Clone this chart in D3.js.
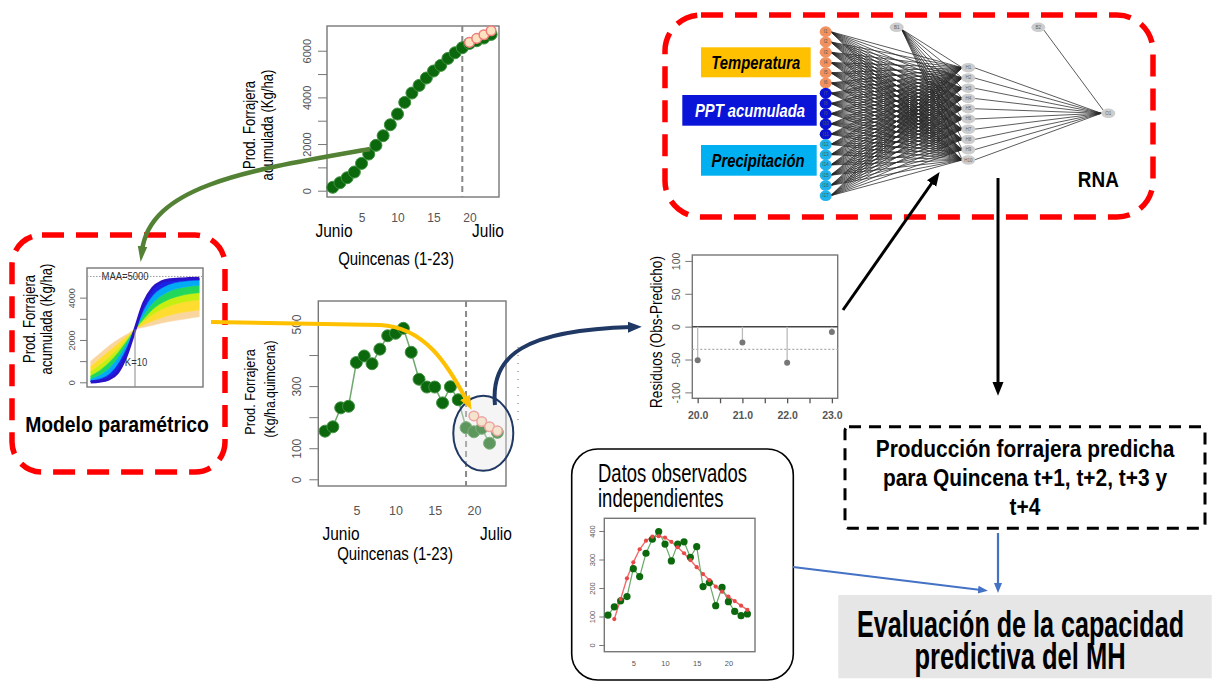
<!DOCTYPE html>
<html>
<head>
<meta charset="utf-8">
<script src="https://cdn.jsdelivr.net/npm/d3@7"></script>
<style>
  body { margin: 0; background: #fff; }
  svg { display: block; font-family: "Liberation Sans", Arial, sans-serif; }
</style>
</head>
<body>
<script>
// ---- data ----
const quincenas = [1,2,3,4,5,6,7,8,9,10,11,12,13,14,15,16,17,18,19,20,21,22,23];
const predQuincenas = [20,21,22,23];

// accumulated forage production (Kg/ha)
const cumObs = [146,343,557,800,1171,1571,1943,2357,2828,3286,3786,4186,4514,4829,5129,5371,5671,5914,6129,6314,6429,6543,6700];
const cumPred = [6357,6529,6686,6857];

// biweekly forage production (Kg/ha.quincena)
const biwObs = [155,169,230,235,376,397,372,419,462,470,486,409,322,297,297,246,298,256,166,153,164,116,151];
const biwPred = [204,186,169,156];

// residuals (Obs - Predicho)
const residuals = [-51,-24,-55,-8];
const residualMean = -34.5;

// independent observed data (inset)
const indepObs = [105,134,155,170,268,240,322,371,398,354,295,354,362,308,345,205,219,138,202,152,118,103,109];
const indepPredQ = [2,3,4,5,6,7,8,9,10,11,12,13,14,15,16,17,18,19,20,21,22,23];
const indepPred = [91,161,234,290,336,366,380,382,377,362,343,322,298,273,249,228,205,187,170,154,138,123];

// parametric model family, steepest -> flattest
const paramX = [0,2,4,6,8,10,12,14,16,18,20,22,24.5];
const paramCurves = [
  [20,50,150,450,1250,2500,3750,4450,4750,4850,4880,4900,4920],
  [60,150,350,800,1550,2500,3450,4100,4450,4650,4750,4800,4830],
  [150,320,620,1100,1750,2500,3200,3750,4100,4330,4450,4530,4580],
  [300,550,900,1350,1900,2500,3000,3450,3750,3950,4080,4170,4230],
  [500,800,1150,1550,2000,2500,2900,3200,3450,3620,3750,3830,3900],
  [750,1100,1450,1800,2150,2500,2720,2900,3050,3180,3280,3350,3420],
  [1000,1350,1700,2000,2250,2500,2600,2700,2800,2880,2950,3020,3100]
];
const bandColors = ['#1a22e6','#00aaf5','#22d85a','#c6ee10','#ffdc30','#f9d6a0'];
const paramMAA = 5000;
const paramK = 10;

// tick labels
const xTickLabels = [5,10,15,20];
const topYTicks = [0,1000,2000,3000,4000,5000,6000];
const topYLabels = [0,2000,4000,6000];
const midYTicks = [0,100,200,300,400,500];
const midYLabels = [0,100,300,500];
const resYTicks = [-100,-50,0,50,100];
const resXTicks = [20,20.5,21,21.5,22,22.5,23];
const resXLabels = [20,21,22,23];
const paramYTicks = [0,1000,2000,3000,4000];
const paramYLabels = [0,2000,4000];
const inYTicks = [0,100,200,300,400];

// neural network
const inputNodes = ['I1','I2','I3','I4','I5','I6','I7','I8','I9','I10','I11','I12','I13','I14','I15','I16','I17'];
const inputGroup = ['t','t','t','t','t','t','p','p','p','p','p','c','c','c','c','c','c'];
const hiddenNodes = ['H1','H2','H3','H4','H5','H6','H7','H8','H9','H10'];

// ---- drawing ----
const svg = d3.select('body').append('svg').attr('width', 1213).attr('height', 683);
svg.append('rect').attr('width', 1213).attr('height', 683).attr('fill', '#fff');

// narrow-looking text helper
function label(g, s, x, y, o) {
  o = Object.assign({ size: 16, sx: 0.82, rot: 0, anchor: 'middle', weight: 'normal', style: 'normal', fill: '#000' }, o);
  return g.append('text')
    .attr('transform', `translate(${x},${y}) rotate(${o.rot}) scale(${o.sx},1)`)
    .attr('text-anchor', o.anchor)
    .attr('font-size', o.size)
    .attr('font-weight', o.weight)
    .attr('font-style', o.style)
    .attr('fill', o.fill)
    .text(s);
}

// R-like left axis with rotated labels
function yAxisR(g, y, x0, ticks, labels, tickLen, labelOff, fs) {
  const ax = g.append('g').attr('transform', `translate(${x0},0)`)
    .call(d3.axisLeft(y).tickValues(ticks).tickSize(tickLen).tickFormat(d => labels.includes(d) ? d : ''));
  ax.select('.domain').remove();
  ax.selectAll('line').attr('stroke', '#777').attr('stroke-width', 1);
  ax.selectAll('text')
    .attr('x', null).attr('dy', null)
    .attr('transform', `translate(${-labelOff},0) rotate(-90)`)
    .attr('text-anchor', 'middle')
    .attr('font-size', fs).attr('fill', '#555')
    .attr('font-family', '"Liberation Sans", Arial, sans-serif');
  return ax;
}

function xLabels(g, x, yBase, vals, fs, fmt) {
  const ax = g.append('g').attr('transform', `translate(0,${yBase})`)
    .call(d3.axisBottom(x).tickValues(vals).tickSize(0).tickFormat(fmt || (d => d)));
  ax.select('.domain').remove();
  ax.selectAll('text').attr('y', 0).attr('dy', 0).attr('font-size', fs).attr('fill', '#555')
    .attr('font-family', '"Liberation Sans", Arial, sans-serif');
  return ax;
}

function box(g, x, y) {
  g.append('rect')
    .attr('x', x.range()[0]).attr('y', y.range()[1])
    .attr('width', x.range()[1] - x.range()[0]).attr('height', y.range()[0] - y.range()[1])
    .attr('fill', 'none').attr('stroke', '#777').attr('stroke-width', 1.4);
}

// ---------- top chart: accumulated production ----------
const gTop = svg.append('g');
const xTop = d3.scaleLinear().domain([0.2, 24.1]).range([327, 499]);
const yTop = d3.scaleLinear().domain([-270, 7060]).range([197, 26]);
box(gTop, xTop, yTop);
yAxisR(gTop, yTop, 327, topYTicks, topYLabels, 9, 16, 11);
xLabels(gTop, xTop, 222, xTickLabels, 12);
gTop.append('line')
  .attr('x1', xTop(19)).attr('x2', xTop(19)).attr('y1', yTop.range()[1]).attr('y2', yTop.range()[0])
  .attr('stroke', '#888').attr('stroke-width', 2).attr('stroke-dasharray', '6,4');
gTop.append('path').datum(cumObs)
  .attr('d', d3.line().x((d, i) => xTop(quincenas[i])).y(d => yTop(d)))
  .attr('fill', 'none').attr('stroke', '#79b479').attr('stroke-width', 1.5);
gTop.selectAll('.obs').data(cumObs).enter().append('circle')
  .attr('cx', (d, i) => xTop(quincenas[i])).attr('cy', d => yTop(d)).attr('r', 6)
  .attr('fill', '#0c680c').attr('stroke', '#3f913f').attr('stroke-width', 1);
gTop.append('path').datum(cumPred)
  .attr('d', d3.line().x((d, i) => xTop(predQuincenas[i])).y(d => yTop(d)))
  .attr('fill', 'none').attr('stroke', '#f4a0a0').attr('stroke-width', 1.2);
gTop.selectAll('.pred').data(cumPred).enter().append('circle')
  .attr('cx', (d, i) => xTop(predQuincenas[i])).attr('cy', d => yTop(d)).attr('r', 4.8)
  .attr('fill', '#fde2bf').attr('stroke', '#f07c7c').attr('stroke-width', 1.5);
label(gTop, 'Prod. Forrajera', 255, 125, { rot: -90, size: 16 });
label(gTop, 'acumulada (Kg/ha)', 273, 125, { rot: -90, size: 16 });
label(gTop, 'Junio', 334, 237, { size: 18, sx: 0.86 });
label(gTop, 'Julio', 488, 237, { size: 18, sx: 0.86 });
label(gTop, 'Quincenas (1-23)', 396, 265, { size: 18.5, sx: 0.81 });

// ---------- middle chart: biweekly production ----------
const gMid = svg.append('g');
const xMid = d3.scaleLinear().domain([0.14, 24.1]).range([318.3, 506]);
const yMid = d3.scaleLinear().domain([-21.6, 574]).range([486, 301]);
box(gMid, xMid, yMid);
yAxisR(gMid, yMid, 318.3, midYTicks, midYLabels, 9, 17, 12);
xLabels(gMid, xMid, 515, xTickLabels, 12.5);
gMid.append('line')
  .attr('x1', xMid(19)).attr('x2', xMid(19)).attr('y1', yMid.range()[1]).attr('y2', yMid.range()[0])
  .attr('stroke', '#888').attr('stroke-width', 2).attr('stroke-dasharray', '6,4');
gMid.append('path').datum(biwObs)
  .attr('d', d3.line().x((d, i) => xMid(quincenas[i])).y(d => yMid(d)))
  .attr('fill', 'none').attr('stroke', '#6fa86f').attr('stroke-width', 1.5);
gMid.selectAll('.obs').data(biwObs).enter().append('circle')
  .attr('cx', (d, i) => xMid(quincenas[i])).attr('cy', d => yMid(d)).attr('r', 6)
  .attr('fill', '#0c680c').attr('stroke', '#3f913f').attr('stroke-width', 1);
gMid.append('path').datum(biwPred)
  .attr('d', d3.line().x((d, i) => xMid(predQuincenas[i])).y(d => yMid(d)))
  .attr('fill', 'none').attr('stroke', '#f4a0a0').attr('stroke-width', 1.2);
gMid.selectAll('.pred').data(biwPred).enter().append('circle')
  .attr('cx', (d, i) => xMid(predQuincenas[i])).attr('cy', d => yMid(d)).attr('r', 4.8)
  .attr('fill', '#fde2bf').attr('stroke', '#f07c7c').attr('stroke-width', 1.5);
// highlight ellipse over the forecast window
gMid.append('ellipse')
  .attr('cx', xMid(21.2)).attr('cy', yMid(148)).attr('rx', 30).attr('ry', 37.5)
  .attr('fill', '#e4e4e4').attr('fill-opacity', 0.38)
  .attr('stroke', '#1f3864').attr('stroke-width', 2);
label(gMid, 'Prod. Forrajera', 255, 392, { rot: -90, size: 15.5 });
label(gMid, '(Kg/ha.quimcena)', 275, 389, { rot: -90, size: 15 });
label(gMid, 'Junio', 341, 540, { size: 18, sx: 0.86 });
label(gMid, 'Julio', 496, 540, { size: 18, sx: 0.86 });
label(gMid, 'Quincenas (1-23)', 395, 560, { size: 18.5, sx: 0.81 });
gMid.append('line').attr('x1', 518).attr('x2', 518).attr('y1', 347).attr('y2', 427)
  .attr('stroke', '#666').attr('stroke-width', 1).attr('stroke-dasharray', '1,7');

// ---------- parametric model ----------
const gPar = svg.append('g');
gPar.append('rect').attr('x', 12).attr('y', 235).attr('width', 213).attr('height', 237).attr('rx', 30)
  .attr('fill', 'none').attr('stroke', '#ff0000').attr('stroke-width', 5.5).attr('stroke-dasharray', '22,12');
const xPar = d3.scaleLinear().domain([-0.84, 25.35]).range([87, 203]);
const yPar = d3.scaleLinear().domain([-222, 5400]).range([387, 268]);
const band = (lo, hi) => d3.area()
  .x((d, i) => xPar(paramX[i]))
  .y0((d, i) => yPar(lo[i])).y1((d, i) => yPar(hi[i]))
  .curve(d3.curveMonotoneX);
for (let k = paramCurves.length - 2; k >= 0; k--) {
  gPar.append('path').datum(paramX)
    .attr('d', band(paramCurves[k], paramCurves[k + 1]))
    .attr('fill', bandColors[k]).attr('stroke', bandColors[k]).attr('stroke-width', 0.6);
}
gPar.append('path').datum(paramCurves[0])
  .attr('d', d3.line().x((d, i) => xPar(paramX[i])).y(d => yPar(d)).curve(d3.curveMonotoneX))
  .attr('fill', 'none').attr('stroke', '#2a12c8').attr('stroke-width', 3);
box(gPar, xPar, yPar);
yAxisR(gPar, yPar, 87, paramYTicks, paramYLabels, 7, 12, 9);
gPar.append('line').attr('x1', xPar.range()[0]).attr('x2', xPar.range()[1]).attr('y1', yPar(paramMAA)).attr('y2', yPar(paramMAA))
  .attr('stroke', '#999').attr('stroke-width', 1).attr('stroke-dasharray', '1.5,1.5');
gPar.append('line').attr('x1', xPar(paramK)).attr('x2', xPar(paramK)).attr('y1', yPar(2500)).attr('y2', yPar.range()[0])
  .attr('stroke', '#888').attr('stroke-width', 1);
label(gPar, 'MAA=5000', 125, yPar(paramMAA) + 4, { size: 10.5, sx: 0.9, fill: '#333' });
label(gPar, 'K=10', 136, 366, { size: 10.5, sx: 0.9, fill: '#333' });
label(gPar, 'Prod. Forrajera', 35, 319, { rot: -90, size: 16 });
label(gPar, 'acumulada (Kg/ha)', 52, 319, { rot: -90, size: 16 });
label(gPar, 'Modelo paramétrico', 117, 432, { size: 21.5, sx: 0.9, weight: 'bold' });

// ---------- residuals ----------
const gRes = svg.append('g');
const xRes = d3.scaleLinear().domain([19.88, 23.13]).range([692.3, 837.7]);
const yRes = d3.scaleLinear().domain([-109, 109]).range([398.3, 255]);
box(gRes, xRes, yRes);
yAxisR(gRes, yRes, 692.3, resYTicks, resYTicks, 7, 12, 10.5);
const rx = gRes.append('g').attr('transform', 'translate(0,398.3)')
  .call(d3.axisBottom(xRes).tickValues(resXTicks).tickSize(5).tickPadding(8)
    .tickFormat(d => resXLabels.includes(d) ? d3.format('.1f')(d) : ''));
rx.select('.domain').remove();
rx.selectAll('line').attr('stroke', '#555').attr('stroke-width', 1.3);
rx.selectAll('text').attr('font-size', 10.5).attr('fill', '#555').attr('font-weight', 'bold')
  .attr('font-family', '"Liberation Sans", Arial, sans-serif');
gRes.append('line').attr('x1', xRes.range()[0]).attr('x2', xRes.range()[1]).attr('y1', yRes(0)).attr('y2', yRes(0))
  .attr('stroke', '#444').attr('stroke-width', 1.5);
gRes.append('line').attr('x1', xRes.range()[0]).attr('x2', xRes.range()[1]).attr('y1', yRes(residualMean)).attr('y2', yRes(residualMean))
  .attr('stroke', '#aaa').attr('stroke-width', 1.2).attr('stroke-dasharray', '2,2');
gRes.selectAll('.stem').data(residuals).enter().append('line')
  .attr('x1', (d, i) => xRes(predQuincenas[i])).attr('x2', (d, i) => xRes(predQuincenas[i]))
  .attr('y1', yRes(0)).attr('y2', d => yRes(d))
  .attr('stroke', '#bbb').attr('stroke-width', 1.3);
gRes.selectAll('.pt').data(residuals).enter().append('circle')
  .attr('cx', (d, i) => xRes(predQuincenas[i])).attr('cy', d => yRes(d)).attr('r', 3)
  .attr('fill', '#777');
label(gRes, 'Residuos (Obs-Predicho)', 662, 332, { rot: -90, size: 16.5 });

// ---------- neural network ----------
const gNet = svg.append('g');
gNet.append('rect').attr('x', 665).attr('y', 15).attr('width', 488).attr('height', 202).attr('rx', 36)
  .attr('fill', 'none').attr('stroke', '#ff0000').attr('stroke-width', 5.5).attr('stroke-dasharray', '22,12');
const yIn = d3.scalePoint().domain(inputNodes).range([31.7, 195.7]);
const yHid = d3.scalePoint().domain(hiddenNodes).range([67.7, 160]);
const xIn = 825.7, xHid = 968.3;
const b1 = [896.7, 27.3], b2 = [1038.3, 27.3], o1 = [1108.3, 113.3];
const edges = [];
inputNodes.forEach(a => hiddenNodes.forEach(h => edges.push([xIn + 5, yIn(a), xHid - 6, yHid(h)])));
hiddenNodes.forEach(h => edges.push([b1[0] + 5, b1[1] + 2, xHid - 6, yHid(h)]));
hiddenNodes.forEach(h => edges.push([xHid + 6, yHid(h), o1[0] - 7, o1[1]]));
edges.push([b2[0] + 5, b2[1] + 2, o1[0] - 5, o1[1] - 3]);
gNet.selectAll('.edge').data(edges).enter().append('line')
  .attr('x1', d => d[0]).attr('y1', d => d[1]).attr('x2', d => d[2]).attr('y2', d => d[3])
  .attr('stroke', '#262626').attr('stroke-width', 0.95).attr('stroke-opacity', 0.8);
const inColor = { t: '#f2905e', p: '#0a12d6', c: '#1fb2ec' };
gNet.selectAll('.in').data(inputNodes).enter().append('ellipse')
  .attr('cx', xIn).attr('cy', d => yIn(d)).attr('rx', 6).attr('ry', 5.4)
  .attr('fill', (d, i) => inColor[inputGroup[i]]);
gNet.selectAll('.inl').data(inputNodes).enter().append('text')
  .attr('x', xIn).attr('y', d => yIn(d) + 1.5).attr('text-anchor', 'middle')
  .attr('font-size', 4.5).attr('fill', '#555').text(d => d);
const grayNodes = hiddenNodes.map(h => ({ n: h, x: xHid, y: yHid(h) }))
  .concat([{ n: 'B1', x: b1[0], y: b1[1] }, { n: 'B2', x: b2[0], y: b2[1] }, { n: 'O1', x: o1[0], y: o1[1] }]);
gNet.selectAll('.gn').data(grayNodes).enter().append('ellipse')
  .attr('cx', d => d.x).attr('cy', d => d.y).attr('rx', 7).attr('ry', 4.8).attr('fill', '#cdcdcd');
gNet.selectAll('.gnl').data(grayNodes).enter().append('text')
  .attr('x', d => d.x).attr('y', d => d.y + 1.5).attr('text-anchor', 'middle')
  .attr('font-size', 4.5).attr('fill', '#666').text(d => d.n);
// input legend
gNet.append('rect').attr('x', 701).attr('y', 47.3).attr('width', 109.7).attr('height', 30).attr('fill', '#ffc000');
label(gNet, 'Temperatura', 755.8, 68.5, { size: 18.5, sx: 0.8, weight: 'bold', style: 'italic' });
gNet.append('rect').attr('x', 682.3).attr('y', 95).attr('width', 134.4).attr('height', 30.7).attr('fill', '#0a14d8');
label(gNet, 'PPT acumulada', 750, 116.5, { size: 18.5, sx: 0.8, weight: 'bold', style: 'italic', fill: '#fff' });
gNet.append('rect').attr('x', 701).attr('y', 145).attr('width', 115.7).attr('height', 30.7).attr('fill', '#00b0f0');
label(gNet, 'Precipitación', 758, 166.5, { size: 18.5, sx: 0.8, weight: 'bold', style: 'italic' });
label(gNet, 'RNA', 1098.3, 187, { size: 21.5, sx: 0.88, weight: 'bold' });

// ---------- independent observed data ----------
const gInd = svg.append('g');
gInd.append('rect').attr('x', 571.7).attr('y', 449).attr('width', 221.6).attr('height', 231).attr('rx', 26)
  .attr('fill', 'none').attr('stroke', '#000').attr('stroke-width', 1.6);
label(gInd, 'Datos observados', 598, 482, { size: 25, sx: 0.74, anchor: 'start' });
label(gInd, 'independientes', 598, 507, { size: 25, sx: 0.74, anchor: 'start' });
const xInd = d3.scaleLinear().domain([0.42, 24.2]).range([604.3, 755]);
const yInd = d3.scaleLinear().domain([-23.5, 444.6]).range([651.7, 518.3]);
box(gInd, xInd, yInd);
yAxisR(gInd, yInd, 604.3, inYTicks, inYTicks, 5, 9, 7.5);
xLabels(gInd, xInd, 666, xTickLabels, 7.5);
gInd.append('path').datum(indepPred)
  .attr('d', d3.line().x((d, i) => xInd(indepPredQ[i])).y(d => yInd(d)))
  .attr('fill', 'none').attr('stroke', '#f06a6a').attr('stroke-width', 1.4);
gInd.append('path').datum(indepObs)
  .attr('d', d3.line().x((d, i) => xInd(quincenas[i])).y(d => yInd(d)))
  .attr('fill', 'none').attr('stroke', '#6aa86a').attr('stroke-width', 1.2);
gInd.selectAll('.obs').data(indepObs).enter().append('circle')
  .attr('cx', (d, i) => xInd(quincenas[i])).attr('cy', d => yInd(d)).attr('r', 3.6)
  .attr('fill', '#0c680c');
gInd.selectAll('.pred').data(indepPred).enter().append('circle')
  .attr('cx', (d, i) => xInd(indepPredQ[i])).attr('cy', d => yInd(d)).attr('r', 2.1)
  .attr('fill', '#e84848');

// ---------- result boxes ----------
const gBox = svg.append('g');
gBox.append('rect').attr('x', 845).attr('y', 426.7).attr('width', 360).attr('height', 101.6).attr('rx', 4)
  .attr('fill', 'none').attr('stroke', '#000').attr('stroke-width', 3).attr('stroke-dasharray', '12,8');
label(gBox, 'Producción forrajera predicha', 1025, 457, { size: 23.5, sx: 0.89, weight: 'bold' });
label(gBox, 'para Quincena t+1, t+2, t+3 y', 1025, 485.5, { size: 23.5, sx: 0.89, weight: 'bold' });
label(gBox, 't+4', 1025, 515, { size: 23.5, sx: 0.89, weight: 'bold' });
gBox.append('rect').attr('x', 838.3).attr('y', 595).attr('width', 373.4).attr('height', 83.3).attr('fill', '#e6e6e6');
label(gBox, 'Evaluación de la capacidad', 1020.5, 637, { size: 37, sx: 0.68, weight: 'bold' });
label(gBox, 'predictiva del MH', 1020, 668.5, { size: 37, sx: 0.69, weight: 'bold' });

// ---------- arrows ----------
const defs = svg.append('defs');
function marker(id, color, size, shape) {
  defs.append('marker').attr('id', id).attr('viewBox', '0 0 10 10')
    .attr('refX', 3).attr('refY', 5).attr('markerUnits', 'userSpaceOnUse')
    .attr('markerWidth', size).attr('markerHeight', size).attr('orient', 'auto')
    .append('path').attr('d', shape || 'M0,1 L10,5 L0,9 Z').attr('fill', color);
}
marker('mGreen', '#548235', 16, 'M0,2 L10,5 L0,8 Z');
marker('mYellow', '#ffc000', 14);
marker('mNavy', '#1f3864', 14);
marker('mBlack', '#000', 14);
marker('mBlue', '#4472c4', 10);
const arrows = [
  { d: 'M370,149 C250,170 150,185 142,251', c: '#548235', w: 4.5, m: 'mGreen' },
  { d: 'M211,322 L380,325 C425,327 448,365 467,401', c: '#ffc000', w: 4, m: 'mYellow' },
  { d: 'M495,405 C490,355 525,330 632,327', c: '#1f3864', w: 4, m: 'mNavy' },
  { d: 'M843,310 L934,180', c: '#000', w: 3, m: 'mBlack' },
  { d: 'M998,178 L998,386', c: '#000', w: 3, m: 'mBlack' },
  { d: 'M998,533 L998,586', c: '#4472c4', w: 2.2, m: 'mBlue' },
  { d: 'M793,567 L981,590', c: '#4472c4', w: 2.2, m: 'mBlue' }
];
svg.append('g').selectAll('path').data(arrows).enter().append('path')
  .attr('d', d => d.d).attr('fill', 'none').attr('stroke', d => d.c).attr('stroke-width', d => d.w)
  .attr('marker-end', d => `url(#${d.m})`);
</script>
</body>
</html>
